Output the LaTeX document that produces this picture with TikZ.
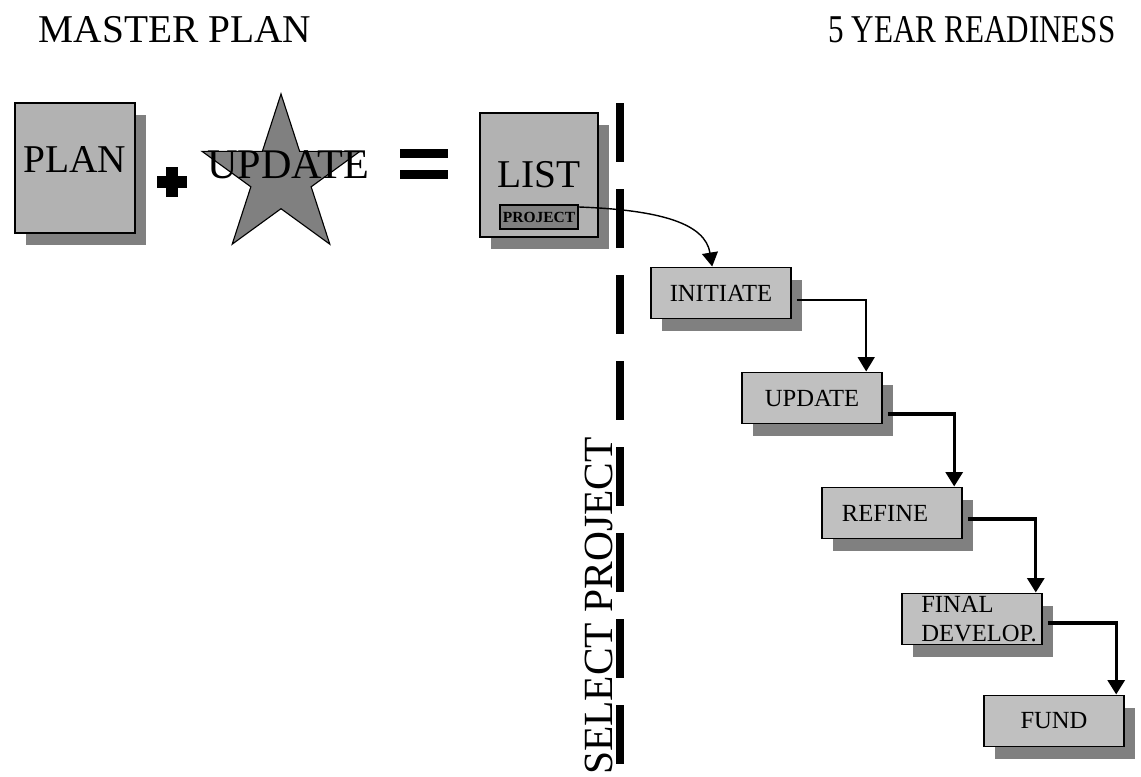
\documentclass[tikz,border=0pt]{standalone}
\usepackage{graphicx}
\usepackage{fontspec}
\setmainfont{Liberation Serif}
\usetikzlibrary{arrows.meta,shapes.geometric,shadows}
\definecolor{boxgray}{RGB}{178,178,178}
\definecolor{stepgray}{RGB}{192,192,192}
\definecolor{shadegray}{RGB}{128,128,128}
\newcommand{\pxu}{0.025cm}
\newcommand{\bigfont}{\fontsize{28}{32}\selectfont}
\newcommand{\stepfont}{\fontsize{17.5}{20}\selectfont}

\begin{document}
\begin{tikzpicture}[x=0.025cm, y=-0.025cm]
	\tikzset{
		boxshadow/.style={drop shadow={shadow xshift=0.28cm, shadow yshift=-0.3cm, fill=shadegray, opacity=1}},
		bigbox/.style={draw, line width=1.4pt, fill=boxgray, boxshadow, font=\bigfont, inner sep=0pt},
		stepbox/.style={draw, line width=1.4pt, fill=stepgray, boxshadow, font=\stepfont, minimum width=140*\pxu, minimum height=51*\pxu, inner sep=0pt},
		flow/.style={line width=2.4pt, -{Triangle[length=0.36cm, width=0.42cm]}}
	}
	\useasboundingbox (0,0) rectangle (1141,776);
	% titles
	\node [font=\bigfont] (master) at (175,30) {MASTER PLAN};
	\node [font=\bigfont] (ready) at (972,30) {\scalebox{0.79}[1]{5 YEAR READINESS}};
	% plan + update = list
	\node [bigbox, text depth=0.4cm, minimum width=120*\pxu, minimum height=130*\pxu] (plan) at (75,168) {PLAN};
	\draw [line width=0.28cm] (172,167) -- (172,197) (157,182) -- (187,182);
	\node [star, star points=5, star point ratio=2.618, minimum size=166*\pxu, draw, line width=0.8pt, fill=shadegray, inner sep=0pt] (star) at (281,177) {};
	\node [font=\fontsize{30}{34}\selectfont] (upd) at (288,165) {UPDATE};
	\fill (400,149) rectangle (448,158);
	\fill (400,170) rectangle (448,179);
	\node [bigbox, minimum width=118*\pxu, minimum height=124*\pxu] (list) at (539,175) {LIST};
	\node [draw, line width=1.2pt, fill=shadegray, minimum width=78*\pxu, minimum height=24*\pxu, inner sep=0pt, font=\fontsize{11}{12}\selectfont\bfseries] (proj) at (539,217) {PROJECT};
	% divider
	\draw [line width=0.2cm, dash pattern=on 1.475cm off 0.675cm] (620,103) -- (620,776);
	\node [font=\fontsize{29.5}{34}\selectfont, rotate=90] (sel) at (599,606) {SELECT PROJECT};
	% steps
	\node [stepbox] (init) at (721,293) {INITIATE};
	\node [stepbox] (upd2) at (812,398) {UPDATE};
	\node [stepbox] (refine) at (892,513) {\hspace*{-0.35cm}REFINE};
	\node [stepbox, align=left] (final) at (972,619) {\hspace*{0.35cm}FINAL\\\hspace*{0.35cm}DEVELOP.};
	\node [stepbox] (fund) at (1054,721) {FUND};
	\draw [line width=1pt, -{Triangle[length=0.35cm, width=0.4cm]}] ([yshift=0.25cm]proj.east) .. controls +(82,3) and +(-7,-43) .. ([xshift=-0.22cm]init.north);
	\draw [flow, line width=1.4pt] ([xshift=0.12cm, yshift=-0.17cm]init.east) -| ([xshift=-0.42cm]upd2.north east);
	\draw [flow] ([xshift=0.12cm, yshift=-0.4cm]upd2.east) -| ([xshift=-0.22cm]refine.north east);
	\draw [flow] ([xshift=0.12cm, yshift=-0.15cm]refine.east) -| ([xshift=-0.18cm]final.north east);
	\draw [flow] ([xshift=0.12cm, yshift=-0.1cm]final.east) -| ([xshift=-0.22cm]fund.north east);
\end{tikzpicture}
\end{document}
